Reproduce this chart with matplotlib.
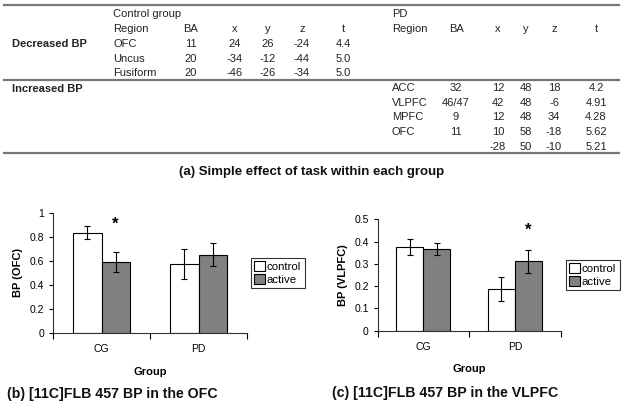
import matplotlib
matplotlib.use('Agg')
import matplotlib.pyplot as plt
from matplotlib.lines import Line2D
import numpy as np

plt.rcParams['font.family'] = ['Liberation Sans', 'DejaVu Sans']

# ---- table data
ctrl_region = ['OFC', 'Uncus', 'Fusiform']
ctrl_ba = ['11', '20', '20']
ctrl_x = ['24', '-34', '-46']
ctrl_y = ['26', '-12', '-26']
ctrl_z = ['-24', '-44', '-34']
ctrl_t = ['4.4', '5.0', '5.0']

pd_region = ['ACC', 'VLPFC', 'MPFC', 'OFC', '']
pd_ba = ['32', '46/47', '9', '11', '']
pd_x = ['12', '42', '12', '10', '-28']
pd_y = ['48', '48', '48', '58', '50']
pd_z = ['18', '-6', '34', '-18', '-10']
pd_t = ['4.2', '4.91', '4.28', '5.62', '5.21']

# ---- bar data
groups = ['CG', 'PD']
ofc_control = [0.835, 0.575]
ofc_control_err = [0.055, 0.125]
ofc_active = [0.59, 0.65]
ofc_active_err = [0.08, 0.095]

vlpfc_control = [0.377, 0.188]
vlpfc_control_err = [0.036, 0.053]
vlpfc_active = [0.367, 0.311]
vlpfc_active_err = [0.026, 0.05]

W, H = 624, 408
fig = plt.figure(figsize=(W / 100, H / 100), dpi=100)


def fx(px):
    return px / W


def fy(py):
    return 1 - py / H


def ftext(x, y, s, ha='left', **kw):
    fig.text(fx(x), fy(y), s, ha=ha, va='center', fontsize=8, color='#222222', **kw)


def hrule(y, x0=4, x1=619):
    fig.add_artist(Line2D([fx(x0), fx(x1)], [fy(y), fy(y)], color='#777777', lw=1.6))


# ---- table
hrule(5)
hrule(80)
hrule(153)

ftext(113, 14, 'Control group')
ftext(392, 14, 'PD')
header_cols = [(113, 'Region', 'left'), (191, 'BA', 'center'), (235, 'x', 'center'),
               (268, 'y', 'center'), (302, 'z', 'center'), (343, 't', 'center'),
               (392, 'Region', 'left'), (456, 'BA', 'center'), (498, 'x', 'center'),
               (526, 'y', 'center'), (554, 'z', 'center'), (596, 't', 'center')]
for x, s, ha in header_cols:
    ftext(x, 29, s, ha=ha)

ftext(12, 44, 'Decreased BP', fontweight='bold', family=['Liberation Sans'])
ftext(12, 89, 'Increased BP', fontweight='bold', family=['Liberation Sans'])

for i in range(len(ctrl_region)):
    y = 44 + i * 14.6
    ftext(113, y, ctrl_region[i])
    ftext(191, y, ctrl_ba[i], ha='center')
    ftext(235, y, ctrl_x[i], ha='center')
    ftext(268, y, ctrl_y[i], ha='center')
    ftext(302, y, ctrl_z[i], ha='center')
    ftext(343, y, ctrl_t[i], ha='center')

for i in range(len(pd_region)):
    y = 88 + i * 14.7
    ftext(392, y, pd_region[i])
    ftext(456, y, pd_ba[i], ha='center')
    ftext(498, y, pd_x[i], ha='center')
    ftext(526, y, pd_y[i], ha='center')
    ftext(554, y, pd_z[i], ha='center')
    ftext(596, y, pd_t[i], ha='center')

fig.text(fx(312), fy(172), '(a) Simple effect of task within each group', ha='center', va='center',
         fontsize=9.5, fontweight='bold', color='#111111')


# ---- bar charts
def bar_panel(rect, ctl, ctl_err, act, act_err, ylim, yticks, ylabel, star_idx, star_y,
              legend_xy, bw):
    ax = fig.add_axes(rect)
    xs = np.arange(len(groups))
    ax.bar(xs - bw / 2, ctl, bw, yerr=ctl_err, color='white', edgecolor='black', lw=0.8,
           error_kw=dict(ecolor='black', elinewidth=0.8, capsize=2.5, capthick=0.8), label='control')
    ax.bar(xs + bw / 2, act, bw, yerr=act_err, color='#808080', edgecolor='black', lw=0.8,
           error_kw=dict(ecolor='black', elinewidth=0.8, capsize=2.5, capthick=0.8), label='active')
    ax.set_xlim(-0.5, len(groups) - 0.5)
    ax.set_ylim(*ylim)
    ax.set_yticks(yticks)
    ax.set_yticklabels([('%g' % t) for t in yticks])
    ax.set_xticks(np.arange(-0.5, len(groups), 1.0))
    ax.set_xticklabels([])
    ax.set_xticks(xs, minor=True)
    ax.set_xticklabels(groups, minor=True)
    ax.tick_params(axis='x', which='minor', length=0, pad=8, labelsize=7.5)
    ax.tick_params(axis='x', which='major', length=4, width=0.8, direction='out')
    ax.tick_params(axis='y', length=3, width=0.8, direction='out', labelsize=7.5)
    for s in ['top', 'right']:
        ax.spines[s].set_visible(False)
    for s in ['left', 'bottom']:
        ax.spines[s].set_linewidth(0.8)
        ax.spines[s].set_color('#333333')
    ax.set_ylabel(ylabel, fontsize=8, fontweight='bold', labelpad=4)
    ax.set_xlabel('Group', fontsize=8, fontweight='bold', labelpad=9)
    ax.text(xs[star_idx] + bw / 2, star_y, '*', ha='center', va='center', fontsize=12, fontweight='bold')
    leg = ax.legend(loc='center left', bbox_to_anchor=legend_xy, bbox_transform=fig.transFigure,
                    fontsize=8.2, frameon=True, fancybox=False, handlelength=0.9, handleheight=0.9,
                    handletextpad=0.2, borderpad=0.3, labelspacing=0.2, borderaxespad=0)
    leg.get_frame().set_edgecolor('black')
    leg.get_frame().set_linewidth(0.8)
    return ax


ax1 = bar_panel([fx(53), fy(333), fx(194), (333 - 212.7) / H],
                ofc_control, ofc_control_err, ofc_active, ofc_active_err,
                (0, 1), [0, 0.2, 0.4, 0.6, 0.8, 1], 'BP (OFC)', 0, 0.9,
                (fx(251), fy(273)), 0.29)
ax1.yaxis.set_label_coords(-0.155, 0.5)

ax2 = bar_panel([fx(377.7), fy(330.7), fx(183), (330.7 - 219.3) / H],
                vlpfc_control, vlpfc_control_err, vlpfc_active, vlpfc_active_err,
                (0, 0.5), [0, 0.1, 0.2, 0.3, 0.4, 0.5], 'BP (VLPFC)', 1, 0.45,
                (fx(566), fy(275)), 0.295)
ax2.yaxis.set_label_coords(-0.162, 0.5)

fig.text(fx(7), fy(394), '(b) [11C]FLB 457 BP in the OFC', ha='left', va='center',
         fontsize=10.2, fontweight='bold', color='#111111')
fig.text(fx(332), fy(393), '(c) [11C]FLB 457 BP in the VLPFC', ha='left', va='center',
         fontsize=10.2, fontweight='bold', color='#111111')

fig.savefig('out.png', dpi=100, facecolor='white')
